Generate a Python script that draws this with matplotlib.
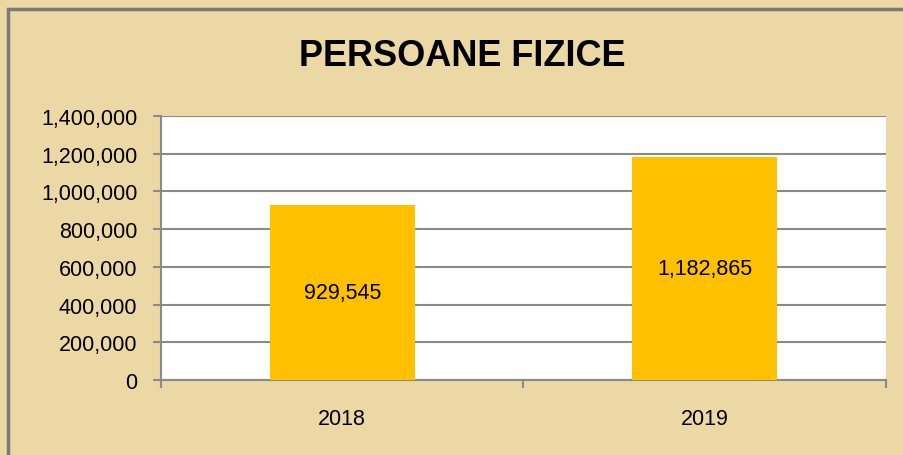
import matplotlib.pyplot as plt
from matplotlib.patches import Rectangle
from matplotlib.ticker import FuncFormatter, MultipleLocator

# date
ani = ["2018", "2019"]
valori = [929545, 1182865]
titlu = "PERSOANE FIZICE"

fundal = "#EBD8A4"
galben = "#FFC000"
gri = "#8A8A8A"

fig = plt.figure(figsize=(9.04, 4.56), dpi=100)
fig.patch.set_facecolor(fundal)

# chenarul graficului (iese din imagine in dreapta si jos)
fig.patches.append(Rectangle((8 / 904, -0.05), 1.0, 1 - 10 / 456 + 0.05,
                             transform=fig.transFigure, fill=False,
                             edgecolor="#7A7A7A", linewidth=2.5))

ax = fig.add_axes([161 / 904, 1 - 381 / 456, (886 - 161) / 904, (381 - 117) / 456])
ax.set_facecolor("white")

x = list(range(len(ani)))
bare = ax.bar(x, valori, width=0.40, color=galben, zorder=3)

for b, v in zip(bare, valori):
    ax.text(b.get_x() + b.get_width() / 2, v / 2, f"{v:,}",
            ha="center", va="center", fontsize=15.5, family="Liberation Sans", zorder=4)

ax.set_xlim(-0.5, len(ani) - 0.5)
ax.set_ylim(0, 1400000)
ax.yaxis.set_major_locator(MultipleLocator(200000))
ax.yaxis.set_major_formatter(FuncFormatter(lambda v, p: f"{int(v):,}"))
ax.grid(axis="y", color=gri, linewidth=1.5, zorder=0)

ax.set_xticks(x)
ax.set_xticklabels(ani)
ax.set_xticks([-0.5, 0.5, 1.5], minor=True)
ax.tick_params(axis="x", which="major", length=0, pad=20, labelsize=15.5)
ax.tick_params(axis="x", which="minor", length=6, width=1.5, color=gri)
ax.tick_params(axis="y", length=6, width=1.5, color=gri, labelsize=15.5, pad=11)
for lbl in ax.get_xticklabels() + ax.get_yticklabels():
    lbl.set_family("Liberation Sans")

for s in ["top", "right"]:
    ax.spines[s].set_visible(False)
for s in ["left", "bottom"]:
    ax.spines[s].set_color(gri)
    ax.spines[s].set_linewidth(1.5)

fig.text(462 / 904, 1 - 57 / 456, titlu, ha="center", va="center",
         fontsize=26, fontweight="bold", family="Liberation Sans")

fig.savefig("out.png", dpi=100, facecolor=fundal)
